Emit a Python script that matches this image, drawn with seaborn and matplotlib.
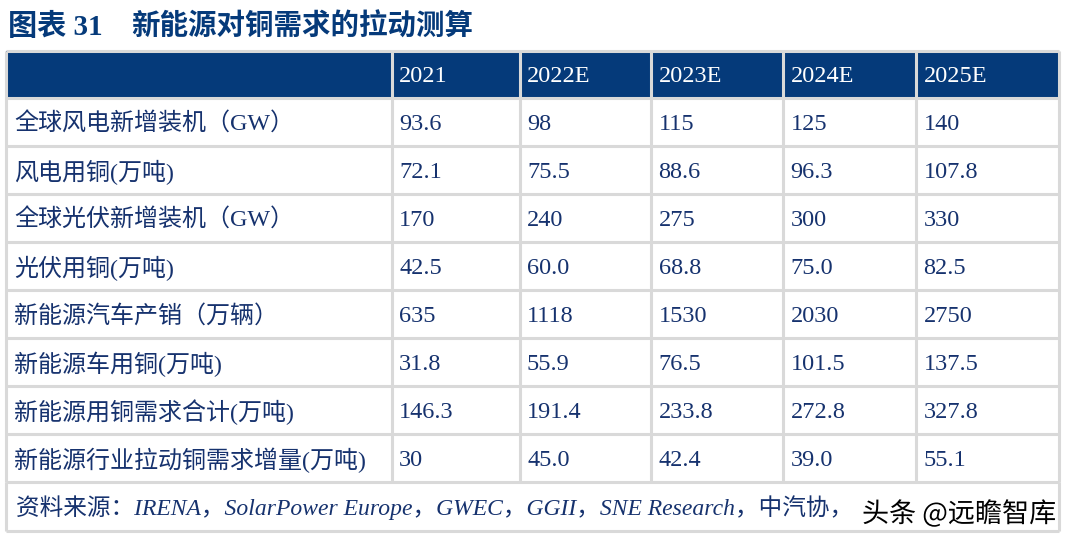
import matplotlib
matplotlib.use("Agg")
import matplotlib.pyplot as plt
import matplotlib.patheffects as pe
from matplotlib.patches import Rectangle
import seaborn as sns

# table content
years = ['2021', '2022E', '2023E', '2024E', '2025E']
row_labels = ['全球风电新增装机（GW）', '风电用铜(万吨)', '全球光伏新增装机（GW）', '光伏用铜(万吨)',
              '新能源汽车产销（万辆）', '新能源车用铜(万吨)', '新能源用铜需求合计(万吨)',
              '新能源行业拉动铜需求增量(万吨)']
wind_gw = ['93.6', '98', '115', '125', '140']
wind_cu = ['72.1', '75.5', '88.6', '96.3', '107.8']
pv_gw = ['170', '240', '275', '300', '330']
pv_cu = ['42.5', '60.0', '68.8', '75.0', '82.5']
nev_sales = ['635', '1118', '1530', '2030', '2750']
nev_cu = ['31.8', '55.9', '76.5', '101.5', '137.5']
total_cu = ['146.3', '191.4', '233.8', '272.8', '327.8']
incr_cu = ['30', '45.0', '42.4', '39.0', '55.1']
rows = [wind_gw, wind_cu, pv_gw, pv_cu, nev_sales, nev_cu, total_cu, incr_cu]

title_no = '图表 31'
title = '新能源对铜需求的拉动测算'
source = '资料来源：IRENA，SolarPower Europe，GWEC，GGII，SNE Research，中汽协，'
watermark = '头条 @远瞻智库'

sns.set_style('white')
MIXED = ['Liberation Serif', 'Noto Sans CJK SC', 'DejaVu Sans']
plt.rcParams['font.family'] = MIXED

NAVY = '#053a7a'
TEXT = '#16326e'
GRID = '#d9d9d9'

# layout in pixels
col_edges = [5.5, 391.5, 519.5, 651, 783, 916, 1059]
top, header_bottom, row_h = 50.5, 98, 48
table_bottom = header_bottom + row_h * len(rows)
foot_bottom = table_bottom + 48.5

fig = plt.figure(figsize=(10.73, 5.43), dpi=100)
ax = fig.add_axes([0, 0, 1, 1])
ax.set_xlim(0, 1073)
ax.set_ylim(543, 0)
ax.axis('off')

# title
ax.text(8, 27, title_no, fontsize=21, fontweight='bold', color=NAVY, va='center', ha='left')
ax.text(131, 27, title, fontsize=20.5, fontweight='bold', color=NAVY, va='center', ha='left')

# header background
ax.add_patch(Rectangle((col_edges[0], top), col_edges[-1] - col_edges[0], header_bottom - top,
                       facecolor=NAVY, edgecolor='none'))

lw = 2.2
# horizontal lines
ys = [top, header_bottom] + [header_bottom + row_h * (i + 1) for i in range(len(rows))] + [foot_bottom]
ax.hlines(ys, col_edges[0], col_edges[-1], colors=GRID, linewidth=lw)
# vertical lines
ax.vlines(col_edges, top, table_bottom, colors=GRID, linewidth=lw)
ax.vlines([col_edges[0], col_edges[-1]], table_bottom, foot_bottom, colors=GRID, linewidth=lw)

# header text
for j, y in enumerate(years):
    ax.text(col_edges[j + 1] + 7.5, (top + header_bottom) / 2 + 2.5, y, fontsize=17.5, color='white',
            va='center', ha='left')

# body
for i, (lab, vals) in enumerate(zip(row_labels, rows)):
    yc = header_bottom + row_h * i + row_h / 2 + 2.5
    ax.text(14, yc, lab, fontsize=17.3, color=TEXT, va='center', ha='left')
    for j, v in enumerate(vals):
        ax.text(col_edges[j + 1] + 7.5, yc, v, fontsize=17.5, color=TEXT, va='center', ha='left')

# source line + watermark
ax.text(16, (table_bottom + foot_bottom) / 2 + 1, source, fontsize=17, color=TEXT, style='italic',
        va='center', ha='left')
ax.text(862, 514, watermark, fontsize=19.5, color='black', family=['Noto Sans CJK SC', 'DejaVu Sans'],
        va='center', ha='left', path_effects=[pe.withStroke(linewidth=3, foreground='white')])

fig.savefig('out.png', dpi=100)
